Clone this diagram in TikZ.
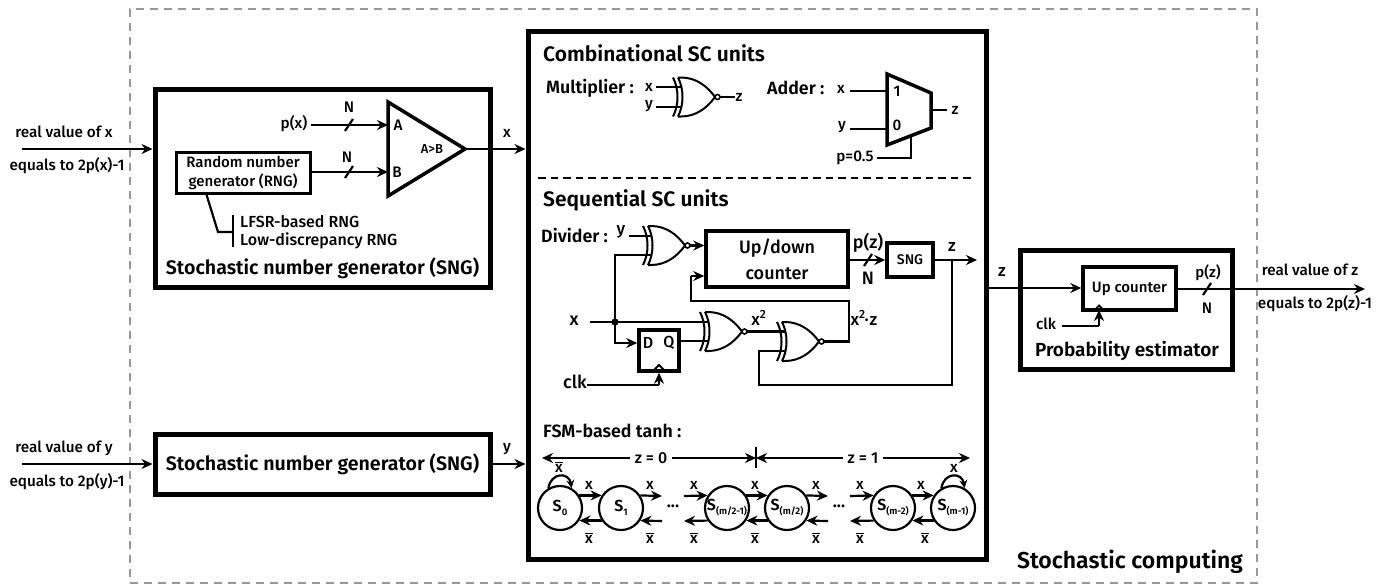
\documentclass[tikz,border=0pt]{standalone}
\usepackage{fontspec}
\setmainfont{Fira Sans}[UprightFont=* Medium,BoldFont=* SemiBold]
\usetikzlibrary{arrows.meta,calc}
\newcommand\tx[4][]{\node[txt,#1] (#2) at (#3) {#4};}
\newcommand\busmark[1]{\draw[wire] ([shift={(-4,6)}]#1) -- ([shift={(4,-6)}]#1);}
\newcommand\nb{$\overline{\hbox{x}}$}
\newcommand\st[2]{S\raisebox{-4pt}{\fontsize{#1}{#1}\selectfont\bfseries #2}}
\tikzset{
  wire/.style={line width=2.2pt,line cap=butt,line join=miter},
  awire/.style={wire,-{Stealth[length=11pt,width=10pt]}},
  bigbox/.style={draw,line width=5pt,fill=white,inner sep=0pt},
  midbox/.style={draw,line width=3.5pt,fill=white,inner sep=0pt,align=center},
  txt/.style={inner sep=0pt,font=\fontsize{15.3}{16}\selectfont,align=center},
  smalltxt/.style={txt,font=\fontsize{13}{14}\selectfont},
  head/.style={txt,font=\fontsize{21}{22}\selectfont\bfseries,anchor=west},
  sub/.style={txt,font=\fontsize{17.8}{20}\selectfont\bfseries,anchor=west},
  sngt/.style={txt,font=\fontsize{19.6}{22}\selectfont\bfseries},
  state/.style={draw,circle,line width=2.2pt,minimum size=44pt,inner sep=0pt,fill=white,font=\fontsize{16}{16}\selectfont\bfseries},
  xnor/.pic={
    \draw[line width=2pt] (0,-19.5) .. controls (6,-8) and (6,8) .. (0,19.5);
    \draw[line width=2pt] (-5,-19.5) .. controls (1,-8) and (1,8) .. (-5,19.5);
    \draw[line width=2pt] (0,-19.5) -- (3,-19.5) .. controls (18,-19.5) and (29,-11) .. (37,0) .. controls (29,11) and (18,19.5) .. (3,19.5) -- (0,19.5);
    \draw[line width=1.6pt,fill=white] (39.5,0) circle (2.5);
    \coordinate (-a) at (3,-9.5);
    \coordinate (-b) at (3,9.5);
    \coordinate (-o) at (42,0);
  }
}
\begin{document}
\begin{tikzpicture}[x=1pt,y=-1pt]
\useasboundingbox (0,0) rectangle (1391,587);
\fill[white] (0,0) rectangle (1391,587);
% outer dashed frame
\node[draw=black!40,line width=1.7pt,dash pattern=on 8pt off 6pt,minimum width=1127pt,minimum height=574pt,inner sep=0pt] (frame) at (693.5,296) {};
\tx[font=\fontsize{23}{24}\selectfont\bfseries,anchor=east]{sctitle}{1243,562}{Stochastic computing}

% --- input x
\coordinate (inx) at (22,149);
\coordinate (iny) at (22,464);
\node[bigbox,minimum width=335pt,minimum height=198pt] (sng1) at (322.5,188) {};
\node[bigbox,minimum width=335pt,minimum height=60pt] (sng2) at (322.5,464.5) {};
\node[bigbox,minimum width=458pt,minimum height=528pt] (sc) at (757,295.5) {};
\node[bigbox,minimum width=212pt,minimum height=119pt] (pe) at (1126,309.5) {};
\draw[awire] (inx) -- (sng1.west |- inx);
\draw[awire] (iny) -- (sng2.west |- iny);
\tx{rx}{64,132}{real value of x}
\tx{ex}{67,166}{equals to 2p(x)-1}
\tx{ry}{64,448}{real value of y}
\tx{ey}{67,482}{equals to 2p(y)-1}
\tx[sngt]{sng2t}{322.5,464}{Stochastic number generator (SNG)}
\tx[sngt]{sng1t}{322.5,268}{Stochastic number generator (SNG)}

% --- inside SNG
\coordinate (cT) at (388,102);
\coordinate (cB) at (388,196);
\coordinate (cO) at (465,149);
\coordinate (cA) at (388,125);
\coordinate (cBi) at (388,172);
\draw[line width=3.5pt,line join=miter,fill=white] (cT) -- (cO) -- (cB) -- cycle;
\node[midbox,minimum width=134pt,minimum height=41pt,font=\fontsize{15}{19}\selectfont,line width=3pt] (rng) at (243,173) {Random number\\generator (RNG)};
\tx{px}{294,124}{p(x)}
\draw[awire] (px.east)+(3,1) coordinate (pxs) -- (pxs -| cA);
\draw[awire] (rng.east |- cBi) -- (cBi);
\busmark{349,125}
\busmark{349,172}
\tx{n1}{349,107}{N}
\tx{n2}{347,157}{N}
\tx{la}{398,125}{A}
\tx{lb}{397,172}{B}
\tx[smalltxt]{lab}{432,149}{A>B}
\draw[wire] (cO) -- (sng1.east |- cO);
\draw[awire] (sng1.east |- cO) -- (sc.west |- cO);
\tx{xo}{507,133}{x}
\tx{yo}{507,449}{y}
\draw[awire] (sng2.east |- iny) -- (sc.west |- iny);
% RNG types
\coordinate (rt) at (206,193);
\coordinate (rk) at (218,232);
\coordinate (rj) at (233,232);
\coordinate (rj1) at (233,215);
\coordinate (rj2) at (233,247);
\draw[wire] (rt) -- (rk) -- (rj);
\draw[wire] (rj1) -- (rj2);
\tx[anchor=west,font=\fontsize{16}{18}\selectfont]{lf}{240,222}{LFSR-based RNG}
\tx[anchor=west,font=\fontsize{16}{18}\selectfont]{ld}{240,241}{Low-discrepancy RNG}

% --- combinational
\tx[head]{comb}{543,53}{Combinational SC units}
\tx[sub]{mul}{546,88}{Multiplier :}
\tx{mx}{649,87}{x}
\tx{my}{649,106}{y}
\pic (g1) at (678,97) {xnor};
\draw[wire] (656,87) coordinate (m1) -- (m1 -| g1-a);
\draw[wire] (656,107) coordinate (m2) -- (m2 -| g1-b);
\tx{mz}{739,97}{z}
\draw[wire] (g1-o) -- (mz.west |- g1-o) ;
\tx[sub]{add}{767,88}{Adder :}
\coordinate (mTL) at (887,74);
\coordinate (mBL) at (887,145);
\coordinate (mTR) at (931,93);
\coordinate (mBR) at (931,128);
\draw[line width=3.5pt,line join=miter] (mTL) -- (mTR) -- (mBR) -- (mBL) -- cycle;
\tx{ax}{841,89}{x}
\tx{ay}{842,127}{y}
\tx{a1}{897,91}{1}
\tx{a0}{897,125}{0}
\tx{az}{955,110}{z}
\tx{ap}{855,158}{p=0.5}
\draw[wire] (850,91) coordinate (ax1) -- (ax1 -| mTL);
\draw[wire] (850,129) coordinate (ay1) -- (ay1 -| mTL);
\draw[wire] (931,110) coordinate (az1) -- (947,110);
\coordinate (as) at (911,137);
\draw[wire] (ap.east)+(3,0) coordinate (ap1) -- (ap1 -| as) -- (as);
\coordinate (dl) at (538,178);
\coordinate (dr) at (975,178);
\draw[line width=2pt,dash pattern=on 7.5pt off 5pt] (dl) -- (dr);

% --- sequential
\tx[head]{seq}{543,200}{Sequential SC units}
\tx[sub]{div}{541,235}{Divider :}
\tx[font=\fontsize{17}{18}\selectfont]{dy}{621,232}{y}
\pic (g2) at (648,245.5) {xnor};
\pic (g3) at (705,331.5) {xnor};
\pic (g4) at (782,341.5) {xnor};
\node[midbox,minimum width=142pt,minimum height=56pt,font=\fontsize{18}{26}\selectfont] (ud) at (777,259) {Up/down\\counter};
\node[midbox,minimum width=46pt,minimum height=34pt,font=\fontsize{14}{16}\selectfont] (sng3) at (910,260) {SNG};
\node[midbox,minimum width=40pt,minimum height=41pt] (ff) at (659,350.5) {};
\tx[font=\fontsize{16}{18}\selectfont]{ffd}{648,343}{D}
\tx[font=\fontsize{16}{18}\selectfont]{ffq}{669,343}{Q}
\draw[line width=2pt] (653,371) -- (659,365) -- (665,371);
\draw[wire] (629,236) coordinate (y1) -- (y1 -| g2-a);
\draw[awire] (g2-o) -- (ud.west |- g2-o);
\tx[font=\fontsize{18}{20}\selectfont]{dx}{574,321}{x}
\coordinate (jx) at (615,322);
\fill (jx) circle (3.6);
\draw[wire] (590,322) coordinate (x0) -- (g3-a);
\draw[wire] (g2-b) -- (g2-b -| jx) -- (jx);
\draw[awire] (jx) -- (jx |- ffd) -- (ff.west |- ffd);
\draw[wire] (ff.east |- g3-b) -- (g3-b);
\tx[font=\fontsize{18}{20}\selectfont]{clk}{575,382}{clk}
\coordinate (ckb) at (659,385);
\draw[wire] (clk.east |- ckb) -- (ckb);
\draw[awire] (ckb) -- (ff.south);
\draw[wire] (g3-o) -- (g3-o -| g4-a);
\tx[font=\fontsize{17}{18}\selectfont]{x2}{759,318}{x\textsuperscript{2}}
\coordinate (fb1) at (849,341.5);
\coordinate (fb2) at (849,301);
\coordinate (fb3) at (691,301);
\coordinate (fb4) at (691,276);
\draw[wire] (g4-o) -- (fb1) -- (fb2) -- (fb3) -- (fb4);
\draw[awire] (fb4) -- (ud.west |- fb4);
\tx[font=\fontsize{17}{18}\selectfont]{x2z}{864,318}{x\textsuperscript{2}\kern-1pt·\kern1pt z}
\draw[awire] (ud.east |- sng3) -- (sng3.west);
\busmark{868,260}
\tx[font=\fontsize{18}{20}\selectfont]{pz}{868,243}{p(z)}
\tx[font=\fontsize{18}{20}\selectfont]{nz}{868,278}{N}
\tx[font=\fontsize{17}{18}\selectfont]{zz}{952,247}{z}
\coordinate (zend) at (977,260);
\coordinate (zj) at (952,260);
\draw[awire] (sng3.east) -- (zend);
\coordinate (zb) at (952,385);
\coordinate (zc) at (759,385);
\draw[wire] (zj) -- (zb) -- (zc) -- (g4-b -| zc) -- (g4-b);

% --- FSM
\tx[sub]{fsm}{543,431}{FSM-based tanh :}
\coordinate (tick1) at (756,447);
\coordinate (tick2) at (756,468);
\draw[wire] (tick1) -- (tick2);
\tx[font=\fontsize{16}{18}\selectfont]{z0}{651,458}{z = 0}
\tx[font=\fontsize{16}{18}\selectfont]{z1}{863,458}{z = 1}
\coordinate (zl) at (542,458);
\coordinate (zm) at (756,458);
\coordinate (zr) at (970,458);
\draw[awire] (z0.west)+(-5,0) coordinate (a) -- (zl);
\draw[awire] (z0.east)+(5,0) coordinate (a) -- (zm);
\draw[awire] (z1.west)+(-5,0) coordinate (a) -- (zm);
\draw[awire] (z1.east)+(5,0) coordinate (a) -- (zr);
\node[state] (s0) at (560,508) {\st{9.5}{0}};
\node[state] (s1) at (621,508) {\st{9.5}{1}};
\node[state] (s2) at (727,508) {\st{9.5}{(m/2-1)}};
\node[state] (s3) at (787,508) {\st{9.5}{(m/2)}};
\node[state] (s4) at (893,508) {\st{9.5}{(m-2)}};
\node[state] (s5) at (953,508) {\st{9.5}{(m-1)}};
\draw[awire] (s0.33) -- (s1.147);
\draw[awire] (s1.213) -- (s0.-33);
\draw[awire] (s2.33) -- (s3.147);
\draw[awire] (s3.213) -- (s2.-33);
\draw[awire] (s4.33) -- (s5.147);
\draw[awire] (s5.213) -- (s4.-33);
\coordinate (f1) at (662,496);
\coordinate (f2) at (662,521);
\coordinate (f3) at (684,496);
\coordinate (f4) at (684,521);
\coordinate (f5) at (828,496);
\coordinate (f6) at (828,521);
\coordinate (f7) at (850,496);
\coordinate (f8) at (850,521);
\draw[awire] (s1.33) -- (f1);
\draw[awire] (f2) -- (s1.-33);
\draw[awire] (f3) -- (s2.147);
\draw[awire] (s2.213) -- (f4);
\draw[awire] (s3.33) -- (f5);
\draw[awire] (f6) -- (s3.-33);
\draw[awire] (f7) -- (s4.147);
\draw[awire] (s4.213) -- (f8);
\draw[wire,-{Stealth[length=8pt,width=8pt]}] (s0.120) .. controls (551,472) and (569,472) .. (s0.60);
\draw[wire,-{Stealth[length=8pt,width=8pt]}] (s5.120) .. controls (944,472) and (962,472) .. (s5.60);
\tx[font=\fontsize{17}{16}\selectfont\bfseries]{d1}{673,506}{...}
\tx[font=\fontsize{17}{16}\selectfont\bfseries]{d2}{839,506}{...}
\tx{t0}{559,467}{\nb}
\tx{t5}{954,468}{x}
\tx{u1}{589,485}{x}
\tx{u2}{650,485}{x}
\tx{u3}{694,485}{x}
\tx{u4}{755,485}{x}
\tx{u5}{816,485}{x}
\tx{u6}{860,485}{x}
\tx{u7}{921,485}{x}
\tx{b1}{589,538}{\nb}
\tx{b2}{650,538}{\nb}
\tx{b3}{694,538}{\nb}
\tx{b4}{755,538}{\nb}
\tx{b5}{816,538}{\nb}
\tx{b6}{860,538}{\nb}
\tx{b7}{925,538}{\nb}

% --- probability estimator
\node[midbox,minimum width=93pt,minimum height=43pt,font=\fontsize{15}{16}\selectfont] (uc) at (1129.5,288.5) {Up counter};
\coordinate (zs) at (985,288);
\tx[font=\fontsize{17}{18}\selectfont]{zin}{1002,272}{z}
\draw[wire] (zs) -- (pe.west |- zs);
\draw[awire] (pe.west |- zs) -- (uc.west |- zs);
\coordinate (ck) at (1099,326);
\coordinate (ckt) at (1099,310);
\tx{clk2}{1046,324}{clk}
\draw[wire] (clk2.east |- ck)+(6,0) coordinate (ck0) -- (ck);
\draw[awire] (ck) -- (ckt);
\draw[line width=1.8pt] (1094.5,310) -- (1099,305.5) -- (1103.5,310);
\coordinate (oz) at (1365,289);
\draw[awire] (uc.east |- oz) -- (oz);
\busmark{1207,289}
\tx[font=\fontsize{15}{18}\selectfont]{pzo}{1208,273}{p(z)}
\tx{nzo}{1207,308}{N}
\tx{rz}{1310,270}{real value of z}
\tx{ez}{1315,304}{equals to 2p(z)-1}
\tx[font=\fontsize{19}{20}\selectfont\bfseries]{pet}{1127,351}{Probability estimator}
\end{tikzpicture}
\end{document}
